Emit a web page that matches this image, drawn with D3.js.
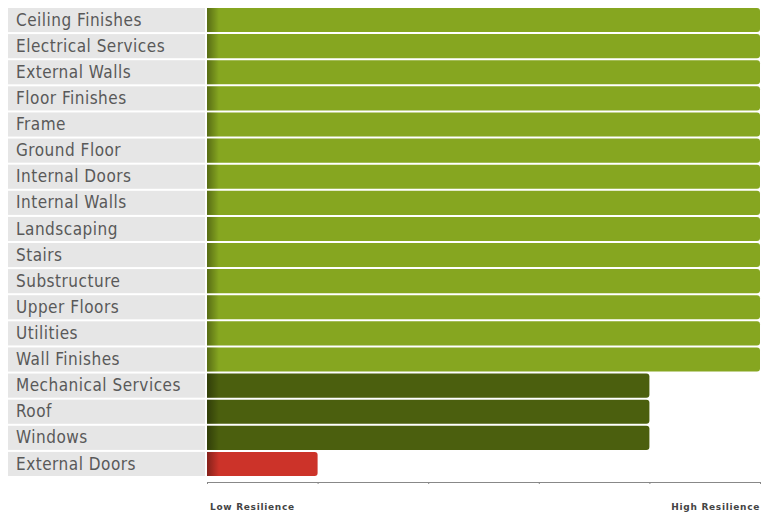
<!DOCTYPE html>
<html>
<head>
<meta charset="utf-8">
<script src="https://cdn.jsdelivr.net/npm/d3@7"></script>
<style>
  body { margin: 0; background: #fff; }
  .label { font-family: "DejaVu Sans Condensed", "Liberation Sans Narrow", sans-serif; font-size: 17px; letter-spacing: 0.5px; fill: #595959; }
  .end-label { font-family: "DejaVu Sans", sans-serif; font-size: 9px; font-weight: bold; letter-spacing: 0.7px; fill: #444; }
  .axis path, .axis line { stroke: #888; }
</style>
</head>
<body>
<div id="chart"></div>
<script>
// Components and their resilience score (0 = low, 5 = high)
const components = [
    "Ceiling Finishes", "Electrical Services", "External Walls", "Floor Finishes",
    "Frame", "Ground Floor", "Internal Doors", "Internal Walls", "Landscaping",
    "Stairs", "Substructure", "Upper Floors", "Utilities", "Wall Finishes",
    "Mechanical Services", "Roof", "Windows", "External Doors"
];
const scores = [5, 5, 5, 5, 5, 5, 5, 5, 5, 5, 5, 5, 5, 5, 4, 4, 4, 1];
const scaleEnds = ["Low Resilience", "High Resilience"];

// Colour by score band
function barColor(v) {
    if (v >= 5) return "#86a620";
    if (v >= 3) return "#4b5f0e";
    return "#cc3329";
}

const width = 761, height = 516;
const labelLeft = 8, labelRight = 205;
const barLeft = 207, barRight = 760;
const rowsTop = 8, rowStep = 26;

const svg = d3.select("#chart").append("svg")
    .attr("width", width)
    .attr("height", height);

const xScale = d3.scaleLinear()
    .domain([0, 5])
    .range([barLeft, barRight]);

const yScale = d3.scaleBand()
    .domain(components)
    .range([rowsTop, rowsTop + rowStep * components.length])
    .paddingInner(2 / 26)
    .paddingOuter(0);

// Left-edge shading gradient
const defs = svg.append("defs");
const grad = defs.append("linearGradient")
    .attr("id", "shade")
    .attr("x1", "0").attr("x2", "1").attr("y1", "0").attr("y2", "0");
grad.append("stop").attr("offset", "0").attr("stop-color", "#000").attr("stop-opacity", 0.35);
grad.append("stop").attr("offset", "1").attr("stop-color", "#000").attr("stop-opacity", 0);

const data = components.map((c, i) => ({name: c, value: scores[i]}));

const rows = svg.selectAll(".row")
    .data(data)
    .enter().append("g")
    .attr("class", "row")
    .attr("transform", d => `translate(0,${yScale(d.name)})`);

// Label background
rows.append("rect")
    .attr("x", labelLeft)
    .attr("width", labelRight - labelLeft)
    .attr("height", yScale.bandwidth())
    .attr("fill", "#e6e6e6");

rows.append("text")
    .attr("class", "label")
    .attr("x", 16)
    .attr("y", yScale.bandwidth() / 2)
    .attr("dy", "0.33em")
    .text(d => d.name);

// Bars with rounded right end
rows.append("path")
    .attr("fill", d => barColor(d.value))
    .attr("d", d => {
        const x0 = xScale(0), x1 = xScale(d.value), h = yScale.bandwidth(), r = 3;
        return `M${x0},0H${x1 - r}Q${x1},0 ${x1},${r}V${h - r}Q${x1},${h} ${x1 - r},${h}H${x0}Z`;
    });

rows.append("rect")
    .attr("x", xScale(0))
    .attr("width", 12)
    .attr("height", yScale.bandwidth())
    .attr("fill", "url(#shade)");

// Axis
const axisY = 482;
svg.append("g")
    .attr("class", "axis")
    .attr("transform", `translate(0,${axisY})`)
    .call(d3.axisBottom(xScale).ticks(5).tickSize(2).tickSizeOuter(0).tickFormat(""));

svg.append("text")
    .attr("class", "end-label")
    .attr("x", xScale(0) + 3)
    .attr("y", 510)
    .text(scaleEnds[0]);

svg.append("text")
    .attr("class", "end-label")
    .attr("x", xScale(5))
    .attr("y", 510)
    .attr("text-anchor", "end")
    .text(scaleEnds[1]);
</script>
</body>
</html>
